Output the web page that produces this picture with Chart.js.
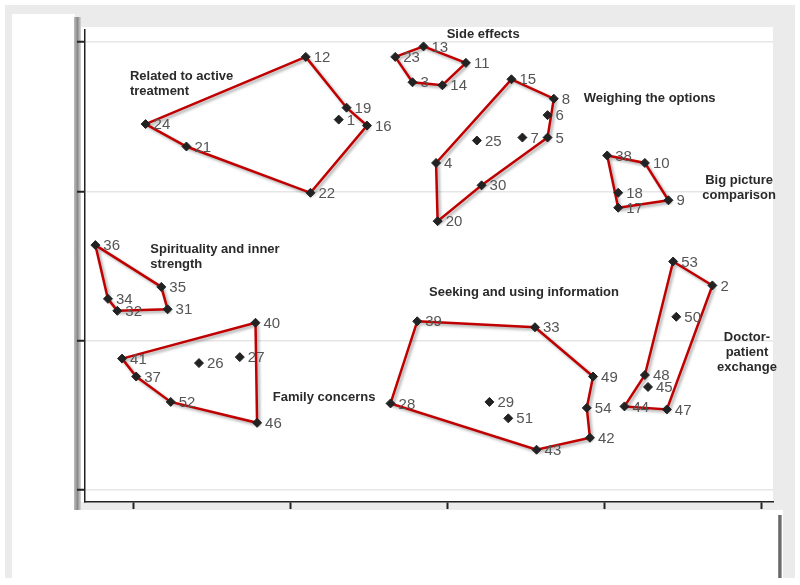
<!DOCTYPE html>
<html>
<head>
<meta charset="utf-8">
<script src="https://cdn.jsdelivr.net/npm/chart.js@4.4.1/dist/chart.umd.min.js"></script>
<style>
  html, body { margin: 0; padding: 0; background: #fff; }
  #wrap { position: relative; width: 800px; height: 585px; overflow: hidden; }
  .bg { position: absolute; }
  canvas { position: absolute; left: 0; top: 0; }
</style>
</head>
<body>
<div id="wrap">
  <!-- scanned-figure frame -->
  <div class="bg" style="left:5px;top:5px;width:790px;height:573px;background:#ebebeb"></div>
  <div class="bg" style="left:12px;top:14px;width:63px;height:564px;background:#fff"></div>
  <div class="bg" style="left:12px;top:510px;width:771px;height:68px;background:#fff"></div>
  <div class="bg" style="left:74px;top:17px;width:7px;height:493px;background:linear-gradient(to right,#bdbdbd,#8a8a8a,#d8d8d8)"></div>
  <div class="bg" style="left:81px;top:27px;width:692px;height:475px;background:#fff"></div>
  <div class="bg" style="left:778px;top:515px;width:4px;height:63px;background:linear-gradient(to right,#999,#555,#bbb)"></div>
  <canvas id="map" width="800" height="585"></canvas>
</div>
<script>
// statement coordinates (point id = index + 1)
const pointX = [1.31, 3.69, 1.78, 1.93, 2.64, 2.64, 2.48, 2.68, 3.41, 3.26,
                2.12, 1.10, 1.85, 1.97, 2.41, 1.49, 3.09, 3.09, 1.36, 1.94,
                0.34, 1.13, 1.67, 0.08, 2.19, 0.42, 0.68, 1.64, 2.27, 2.22,
                0.22, -0.10, 2.56, -0.16, 0.18, -0.24, 0.02, 3.02, 1.81, 0.78,
                -0.07, 2.91, 2.57, 3.13, 3.28, 0.79, 3.40, 3.26, 2.93, 3.46,
                2.39, 0.24, 3.44, 2.89];
const pointY = [2.48, 1.37, 2.73, 2.19, 2.36, 2.51, 2.36, 2.62, 1.94, 2.19,
                2.86, 2.90, 2.97, 2.71, 2.75, 2.44, 1.89, 1.99, 2.56, 1.80,
                2.30, 1.99, 2.90, 2.45, 2.34, 0.85, 0.89, 0.58, 0.59, 2.04,
                1.21, 1.20, 1.09, 1.28, 1.36, 1.64, 0.76, 2.24, 1.13, 1.12,
                0.88, 0.35, 0.27, 0.56, 0.69, 0.45, 0.54, 0.77, 0.76, 1.16,
                0.48, 0.59, 1.53, 0.55];

// clusters: name lines, hull (point ids in drawing order)
const clusterNames = [
  ['Related to active', 'treatment'],
  ['Side effects'],
  ['Weighing the options'],
  ['Big picture', 'comparison'],
  ['Spirituality and inner', 'strength'],
  ['Family concerns'],
  ['Seeking and using information'],
  ['Doctor-', 'patient', 'exchange']
];
const clusterHulls = [
  [12, 19, 16, 22, 21, 24],
  [23, 13, 11, 14, 3],
  [15, 8, 5, 30, 20, 4],
  [38, 10, 9, 17],
  [36, 35, 31, 32, 34],
  [40, 46, 52, 37, 41],
  [39, 33, 49, 54, 42, 43, 28],
  [53, 2, 47, 44, 48]
];
const clusterLabelX = [-0.02, 2.23, 2.87, 3.86, 0.11, 0.89, 2.49, 3.91];
const clusterLabelY = [2.77, 3.05, 2.62, 2.07, 1.61, 0.62, 1.32, 1.02];
const clusterLabelAlign = ['left', 'center', 'left', 'center', 'left', 'left', 'center', 'center'];

const xTicks = [0, 1, 2, 3, 4];
const yTicks = [0, 1, 2, 3];

const FONT = "'Liberation Sans', Arial, sans-serif";

const points = pointX.map((x, i) => ({ x: x, y: pointY[i], id: i + 1 }));

const hullSets = clusterHulls.map(h => {
  const pts = h.map(id => ({ x: pointX[id - 1], y: pointY[id - 1] }));
  pts.push(pts[0]);
  return {
    type: 'line', data: pts, showLine: true, fill: false, tension: 0,
    borderColor: '#c00000', borderWidth: 2.5, pointRadius: 0, order: 1,
    shadow: true
  };
});

// grey drop shadow under the hull lines
const shadowPlugin = {
  id: 'hullShadow',
  beforeDatasetDraw(chart, args) {
    if (!args.meta._dataset.shadow) return;
    const ctx = chart.ctx;
    ctx.save();
    ctx.shadowColor = 'rgba(0,0,0,0.35)';
    ctx.shadowBlur = 3;
    ctx.shadowOffsetX = 2;
    ctx.shadowOffsetY = 2;
  },
  afterDatasetDraw(chart, args) {
    if (!args.meta._dataset.shadow) return;
    chart.ctx.restore();
  }
};

// point numbers + cluster names
const labelPlugin = {
  id: 'mapLabels',
  afterDatasetsDraw(chart) {
    const ctx = chart.ctx;
    const meta = chart.getDatasetMeta(0);
    ctx.save();
    ctx.font = '15px ' + FONT;
    ctx.fillStyle = '#555';
    ctx.textAlign = 'left';
    ctx.textBaseline = 'middle';
    meta.data.forEach((el, i) => {
      ctx.fillText(String(points[i].id), el.x + 8, el.y + 1);
    });
    const xs = chart.scales.x, ys = chart.scales.y;
    ctx.font = 'bold 13px ' + FONT;
    ctx.fillStyle = '#2a2a2a';
    clusterNames.forEach((lines, k) => {
      const px = xs.getPixelForValue(clusterLabelX[k]);
      const py = ys.getPixelForValue(clusterLabelY[k]);
      ctx.textAlign = clusterLabelAlign[k];
      lines.forEach((t, j) => ctx.fillText(t, px, py + j * 15));
    });
    ctx.restore();
  }
};

new Chart(document.getElementById('map'), {
  type: 'scatter',
  data: {
    datasets: [{
      data: points,
      pointStyle: 'rectRot',
      pointRadius: 4.5,
      backgroundColor: '#222',
      borderColor: '#222',
      borderWidth: 1,
      order: 0
    }].concat(hullSets)
  },
  options: {
    responsive: false,
    devicePixelRatio: 1,
    animation: false,
    layout: { padding: { left: 77, top: 30, right: 27, bottom: 76 } },
    plugins: { legend: { display: false }, tooltip: { enabled: false } },
    scales: {
      x: {
        type: 'linear', min: -0.306, max: 4.076,
        afterBuildTicks: s => { s.ticks = xTicks.map(v => ({ value: v })); },
        ticks: { display: false },
        grid: { drawOnChartArea: false, tickLength: 7, tickColor: '#222', tickWidth: 2 },
        border: { color: '#222', width: 1.5 }
      },
      y: {
        type: 'linear', min: -0.080, max: 3.080,
        afterBuildTicks: s => { s.ticks = yTicks.map(v => ({ value: v })); },
        ticks: { display: false },
        grid: { color: '#e6e6e6', lineWidth: 1.5, tickLength: 8, tickColor: '#222', tickWidth: 2 },
        border: { color: '#222', width: 1.5 }
      }
    }
  },
  plugins: [shadowPlugin, labelPlugin]
});
</script>
</body>
</html>
